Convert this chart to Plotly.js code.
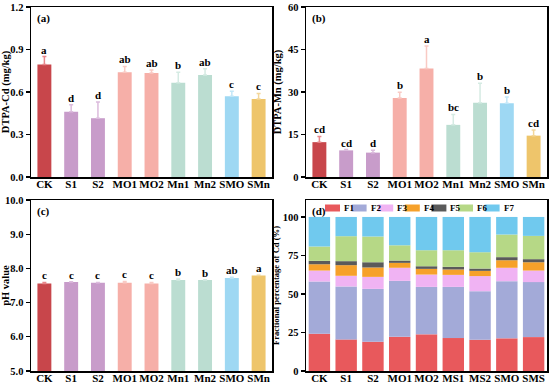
<!DOCTYPE html>
<html><head><meta charset="utf-8">
<script src="https://cdn.plot.ly/plotly-3.0.1.min.js"></script>
<style>body{margin:0;padding:0;background:#fff}#c{width:550px;height:386px}</style>
</head><body><div id="c"></div>
<script>
// ---- data ----
const catsABC = ['CK','S1','S2','MO1','MO2','Mn1','Mn2','SMO','SMn'];
const cdVals  = [0.795,0.46,0.415,0.74,0.735,0.665,0.72,0.57,0.55];
const cdErr   = [0.055,0.05,0.115,0.04,0.02,0.075,0.045,0.035,0.04];
const cdSig   = ['a','d','d','ab','ab','b','ab','c','c'];
const mnVals  = [12.3,9.4,8.6,27.9,38.3,18.4,26.2,26.0,14.6];
const mnErr   = [2.0,0.3,0.8,2.0,7.9,3.7,6.9,2.2,2.0];
const mnSig   = ['cd','cd','d','b','a','bc','b','b','cd'];
const phVals  = [7.56,7.60,7.58,7.58,7.56,7.66,7.66,7.72,7.79];
const phErr   = [0.03,0.01,0.01,0.04,0.03,0.03,0.01,0.02,0.01];
const phSig   = ['c','c','c','c','c','b','b','ab','a'];
const catsD   = ['CK','S1','S2','MO1','MO2','MS1','MS2','SMO','SMS'];
const fracNames = ['F1','F2','F3','F4','F5','F6','F7'];
const F1 = [24.2,20.5,19.0,22.2,23.8,21.4,20.3,21.2,22.0];
const F2 = [33.9,34.4,34.3,36.3,30.8,33.2,31.5,37.1,35.7];
const F3 = [7.1,6.9,7.8,8.5,8.0,7.8,9.8,8.7,7.5];
const F4 = [4.1,6.9,6.1,3.2,3.7,3.5,3.4,4.9,5.4];
const F5 = [2.2,2.6,3.4,1.5,1.7,1.7,1.5,2.0,2.0];
const F6 = [9.3,16.2,16.7,9.9,10.4,10.8,10.6,14.7,15.1];
const F7 = [19.2,12.5,12.7,18.4,21.6,21.6,22.9,11.4,12.3];
const fracVals = [F1,F2,F3,F4,F5,F6,F7];

// ---- styles ----
const barCols = ['#C8464B','#C89CCA','#C89CCA','#F6AFA8','#F6AFA8','#BBDDD1','#BBDDD1','#9ED8F3','#EEC56B'];
const errCols = ['#E8868A','#DCBCDD','#DCBCDD','#F9CAC4','#F9CAC4','#D5EBE3','#D5EBE3','#C2E7F8','#F3D79A'];
const fracCols = ['#E8595C','#A3AAD8','#F0B3F3','#F6A12A','#5A5A5A','#B6D886','#70C9EE'];
const FONT = 'Liberation Serif, Times New Roman, serif';

const traces = [];
const annotations = [];
function addPanel(vals, errs, sig, xa, ya){
  catsABC.forEach((c,i)=>{
    traces.push({type:'bar', x:[c], y:[vals[i]], xaxis:xa, yaxis:ya, showlegend:false,
      marker:{color:barCols[i], line:{width:0}}, width:0.52,
      error_y:{type:'data', symmetric:false, array:[errs[i]], arrayminus:[0], color:errCols[i], thickness:1.5, width:2}});
    annotations.push({xref:xa, yref:ya, x:c, y:vals[i]+errs[i], text:'<b>'+sig[i]+'</b>', showarrow:false,
      yanchor:'bottom', yshift:-1, font:{family:FONT, size:11, color:'#000'}});
  });
}
addPanel(cdVals, cdErr, cdSig, 'x', 'y');
addPanel(mnVals, mnErr, mnSig, 'x2', 'y2');
addPanel(phVals, phErr, phSig, 'x3', 'y3');
fracVals.forEach((v,k)=>{
  traces.push({type:'bar', x:catsD, y:v, name:fracNames[k], xaxis:'x4', yaxis:'y4', showlegend:false,
    marker:{color:fracCols[k], line:{width:0}}, width:0.8});
});

// manual legend for panel d
const shapes = [];
const legX0 = 325, legDx = 26.6, legY = 208;
fracNames.forEach((n,k)=>{
  const x0 = legX0 + k*legDx;
  shapes.push({type:'rect', xref:'paper', yref:'paper', x0:x0/550, x1:(x0+15)/550,
    y0:1-(legY+3.5)/386, y1:1-(legY-3.5)/386, fillcolor:fracCols[k], line:{width:0}});
  annotations.push({xref:'paper', yref:'paper', x:(x0+17)/550, y:1-legY/386, xanchor:'left', yanchor:'middle',
    text:'<b>'+n+'</b>', showarrow:false, font:{family:FONT, size:9, color:'#000'}});
});

// panel letters
[['(a)','x','y'],['(b)','x2','y2'],['(c)','x3','y3'],['(d)','x4','y4']].forEach(p=>{
  annotations.push({xref:p[1]+' domain', yref:p[2]+' domain', x:0.015, y:0.985, xanchor:'left', yanchor:'top',
    text:'<b>'+p[0]+'</b>', showarrow:false, font:{family:FONT, size:11, color:'#000'}});
});

function xax(dom){
  return {domain:dom, showline:true, linecolor:'#000', linewidth:1.5, mirror:true, ticks:'', showgrid:false,
    zeroline:false, ticklabelstandoff:-4, tickfont:{family:FONT, size:11, color:'#000', weight:'bold'}, fixedrange:true};
}
function yax(dom, range, dtick, fmt, title, tsize, sto){
  return {domain:dom, range:range, dtick:dtick, tick0:range[0], tickformat:fmt, showline:true, linecolor:'#000', linewidth:1.5,
    mirror:true, ticks:'outside', ticklen:4, tickwidth:1.2, tickcolor:'#000', showgrid:false, zeroline:false,
    tickfont:{family:FONT, size:10.5, color:'#000', weight:'bold'},
    title:{text:title, font:{family:FONT, size:tsize||10.5, color:'#000', weight:'bold'}, standoff:(sto===undefined?4:sto)}, fixedrange:true};
}
const dL = [31/550, 272/550], dR = [306/550, 547/550];
const dT = [1-177/386, 1-7/386], dB = [1-371/386, 1-200/386];
const layout = {
  width:550, height:386, margin:{l:0,r:0,t:0,b:0}, paper_bgcolor:'#fff', plot_bgcolor:'#fff',
  barmode:'relative', showlegend:false, font:{family:FONT},
  xaxis: Object.assign(xax(dL), {anchor:'y'}),
  yaxis: Object.assign(yax(dT,[0,1.2],0.3,'.1f','DTPA-Cd (mg/kg)'), {anchor:'x'}),
  xaxis2: Object.assign(xax(dR), {anchor:'y2'}),
  yaxis2: Object.assign(yax(dT,[0,60],15,'d','DTPA-Mn (mg/kg)'), {anchor:'x2'}),
  xaxis3: Object.assign(xax(dL), {anchor:'y3'}),
  yaxis3: Object.assign(yax(dB,[5,10],1,'.1f','pH value'), {anchor:'x3'}),
  xaxis4: Object.assign(xax(dR), {anchor:'y4'}),
  yaxis4: Object.assign(yax(dB,[0,111],25,'d','Fractional percentage of Cd (%)', 8.6, 1), {anchor:'x4', tick0:0}),
  annotations: annotations, shapes: shapes
};
Plotly.newPlot('c', traces, layout, {displayModeBar:false, staticPlot:true});
</script></body></html>
